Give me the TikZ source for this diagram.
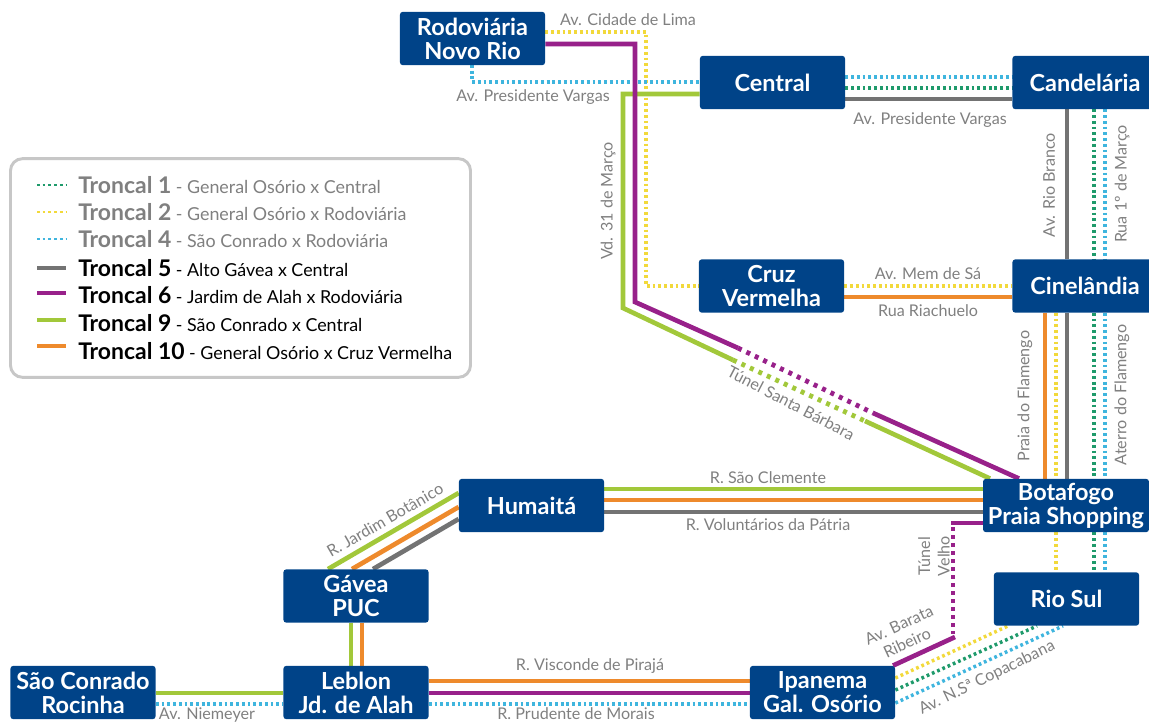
\documentclass[tikz,border=0pt]{standalone}
\usepackage{fontspec}
\setmainfont{Lato}
\usetikzlibrary{calc,backgrounds}
\definecolor{navy}{HTML}{004388}
\definecolor{purp}{HTML}{98218A}
\definecolor{lgreen}{HTML}{A2C83A}
\definecolor{orng}{HTML}{EE8A2C}
\definecolor{grayl}{HTML}{737373}
\definecolor{yell}{HTML}{F2D93B}
\definecolor{cyn}{HTML}{3FB5DE}
\definecolor{dgreen}{HTML}{1F9A6B}
\definecolor{lab}{HTML}{808080}
\newcommand{\tronc}[1]{{\fontsize{17.2}{18}\selectfont\bfseries Troncal #1}}
\tikzset{
 x=0.75pt,y=-0.75pt,
 station/.style={fill=navy,text=white,rounded corners=2.2pt,inner sep=0pt,minimum width=108.9pt,minimum height=40pt,align=center,font=\fontsize{17.6}{18}\selectfont\bfseries},
 solidline/.style={line width=3.5pt,line join=miter},
 dotline/.style={line width=2.6pt,dash pattern=on 2.1pt off 2.2pt},
 legdot/.style={line width=2.1pt,dash pattern=on 2pt off 2.3pt},
 tunnel/.style={line width=3.6pt,dash pattern=on 3pt off 4pt},
 tunnelv/.style={line width=3.3pt,dash pattern=on 3pt off 3pt},
 street/.style={text=lab,font=\fontsize{12.1}{14.5}\selectfont,inner sep=0pt,align=center},
 legrow/.style={anchor=west,inner sep=0pt,font=\fontsize{13.4}{15}\selectfont},
}
\begin{document}
\begin{tikzpicture}
\useasboundingbox (0,0) rectangle (1149,722);
\clip (0,0) rectangle (1149,722);
% stations
\node[station] (rod) at (472.5,38.5) {Rodoviária\\Novo Rio};
\node[station] (cen) at (772.5,82.5) {Central};
\node[station] (can) at (1085,82.5) {Candelária};
\node[station] (cruz) at (771.5,286) {Cruz\\Vermelha};
\node[station] (cin) at (1085,286) {Cinelândia};
\node[station,minimum width=124.5pt] (bot) at (1066,505.5) {Botafogo\\Praia Shopping};
\node[station] (hum) at (531.5,505.5) {Humaitá};
\node[station] (gav) at (356,596) {Gávea\\PUC};
\node[station] (leb) at (356,692.5) {Leblon\\Jd. de Alah};
\node[station] (sul) at (1066.5,599) {Rio Sul};
\node[station] (ipa) at (822.5,692.5) {Ipanema\\Gal. Osório};
\node[station] (sao) at (83,692.5) {São Conrado\\Rocinha};
\begin{scope}[on background layer]
% Rodoviaria
\draw[dotline,yell] (rod.east |- 0,32) -- (646,32) |- (cruz.west |- 0,286);
\draw[dotline,cyn] (472,65) |- (cen.west |- 0,82);
\draw[solidline,lgreen] (cen.west |- 0,94) -| (623,308) -- (733,360);
\draw[solidline,purp] (rod.east |- 0,44) -| (635,302) -- (738,348);
\draw[tunnel,lgreen] (733,360) -- (865,421);
\draw[tunnel,purp] (738,348) -- (873,413);
\draw[solidline,lgreen] (865,421) -- (bot.north -| 990,0);
\draw[solidline,purp] (873,413) -- (bot.north -| 1019,0);
% Central - Candelaria
\draw[dotline,cyn] (cen.east |- 0,77) -- (can.west |- 0,77);
\draw[dotline,dgreen] (cen.east |- 0,88) -- (can.west |- 0,88);
\draw[solidline,grayl] (cen.east |- 0,99) -- (can.west |- 0,99);
% Candelaria - Cinelandia - Botafogo
\draw[solidline,grayl] (can.south -| 1067,0) -- (cin.north -| 1067,0);
\draw[dotline,dgreen] (can.south -| 1094,0) -- (cin.north -| 1094,0);
\draw[dotline,cyn] (can.south -| 1105,0) -- (cin.north -| 1105,0);
\draw[solidline,grayl] (cin.south -| 1067,0) -- (bot.north -| 1067,0);
\draw[dotline,dgreen] (cin.south -| 1094,0) -- (bot.north -| 1094,0);
\draw[dotline,cyn] (cin.south -| 1105,0) -- (bot.north -| 1105,0);
\draw[solidline,orng] (cin.south -| 1045,0) -- (bot.north -| 1045,0);
\draw[dotline,yell] (cin.south -| 1056,0) -- (bot.north -| 1056,0);
% Cruz - Cinelandia
\draw[dotline,yell] (cruz.east |- 0,286) -- (cin.west |- 0,286);
\draw[solidline,orng] (cruz.east |- 0,297) -- (cin.west |- 0,297);
% Botafogo - Rio Sul
\draw[dotline,yell] (bot.south -| 1056,0) -- (sul.north -| 1056,0);
\draw[dotline,dgreen] (bot.south -| 1094,0) -- (sul.north -| 1094,0);
\draw[dotline,cyn] (bot.south -| 1105,0) -- (sul.north -| 1105,0);
% Humaita - Botafogo
\draw[solidline,lgreen] (hum.east |- 0,489) -- (bot.west |- 0,489);
\draw[solidline,orng] (hum.east |- 0,500) -- (bot.west |- 0,500);
\draw[solidline,grayl] (hum.east |- 0,512) -- (bot.west |- 0,512);
% Humaita - Gavea
\draw[solidline,lgreen] (hum.west |- 0,493) -- (gav.north -| 328,0);
\draw[solidline,orng] (hum.west |- 0,507) -- (gav.north -| 352,0);
\draw[solidline,grayl] (hum.west |- 0,519) -- (gav.north -| 373,0);
% Gavea - Leblon
\draw[solidline,lgreen] (gav.south -| 351,0) -- (leb.north -| 351,0);
\draw[solidline,orng] (gav.south -| 362,0) -- (leb.north -| 362,0);
% Leblon - Ipanema
\draw[solidline,orng] (leb.east |- 0,681) -- (ipa.west |- 0,681);
\draw[solidline,purp] (leb.east |- 0,693) -- (ipa.west |- 0,693);
\draw[dotline,cyn] (leb.east |- 0,704) -- (ipa.west |- 0,704);
% Sao Conrado - Leblon
\draw[solidline,lgreen] (sao.east |- 0,693) -- (leb.west |- 0,693);
\draw[dotline,cyn] (sao.east |- 0,704) -- (leb.west |- 0,704);
% Botafogo - Ipanema (purple)
\draw[solidline,purp] (bot.west |- 0,523) -- (951,523);
\draw[tunnelv,purp] (953,527) -- (953,634);
\draw[solidline,purp] (955,637) -- (ipa.north -| 893,0);
% Ipanema - Rio Sul
\draw[dotline,yell] (ipa.east |- 0,678) -- (sul.south -| 1008,0);
\draw[dotline,dgreen] (ipa.east |- 0,690) -- (sul.south -| 1037,0);
\draw[dotline,cyn] (ipa.east |- 0,703) -- (sul.south -| 1063,0);
\end{scope}
% street labels
\node[street] (l1) at (628,20) {Av. Cidade de Lima};
\node[street] (l2) at (533,97) {Av. Presidente Vargas};
\node[street] (l3) at (930,120) {Av. Presidente Vargas};
\node[street,rotate=90] (l4) at (608,201) {Vd. 31 de Março};
\node[street,rotate=90] (l5) at (1049,185) {Av. Rio Branco};
\node[street,rotate=90] (l6) at (1122,184) {Rua 1º de Março};
\node[street] (l7) at (928,274) {Av. Mem de Sá};
\node[street] (l8) at (928,311) {Rua Riachuelo};
\node[street,rotate=90] (l9) at (1025,396) {Praia do Flamengo};
\node[street,rotate=90] (l10) at (1122,395) {Aterro do Flamengo};
\node[street,rotate=-27.5] (l11) at (791,403) {Túnel Santa Bárbara};
\node[street] (l12) at (768,478) {R. São Clemente};
\node[street] (l13) at (768,525) {R. Voluntários da Pátria};
\node[street,rotate=90] (l14) at (934,556) {Túnel\\Velho};
\node[street,rotate=30] (l15) at (385,520) {R. Jardim Botânico};
\node[street] (l16) at (590,666) {R. Visconde de Pirajá};
\node[street] (l17) at (576,714) {R. Prudente de Morais};
\node[street] (l18) at (207,715) {Av. Niemeyer};
\node[street,rotate=25] (l19) at (903,634) {Av. Barata\\Ribeiro};
\node[street,rotate=26] (l20) at (987,678) {Av. N.Sª Copacabana};
% legend
\node[draw=black!22,line width=2.2pt,rounded corners=9pt,fill=white,minimum width=345pt,minimum height=164pt,inner sep=0pt] (leg) at (240.5,268) {};
\node[legrow,text=lab] (t1) at (78,185) {\tronc{1} - General Osório x Central};
\node[legrow,text=lab] (t2) at (78,212) {\tronc{2} - General Osório x Rodoviária};
\node[legrow,text=lab] (t4) at (78,239) {\tronc{4} - São Conrado x Rodoviária};
\node[legrow,text=black] (t5) at (78,268) {\tronc{5} - Alto Gávea x Central};
\node[legrow,text=black] (t6) at (78,295) {\tronc{6} - Jardim de Alah x Rodoviária};
\node[legrow,text=black] (t9) at (78,323) {\tronc{9} - São Conrado x Central};
\node[legrow,text=black] (t10) at (78,351) {\tronc{10} - General Osório x Cruz Vermelha};
\draw[legdot,dgreen] (37,185) -- (t1.west -| 66,0);
\draw[legdot,yell] (37,212) -- (t2.west -| 66,0);
\draw[legdot,cyn] (37,239) -- (t4.west -| 66,0);
\draw[solidline,grayl] (37,268) -- (t5.west -| 66,0);
\draw[solidline,purp] (37,293) -- (66,293);
\draw[solidline,lgreen] (37,320) -- (66,320);
\draw[solidline,orng] (37,346) -- (66,346);
\end{tikzpicture}
\end{document}
